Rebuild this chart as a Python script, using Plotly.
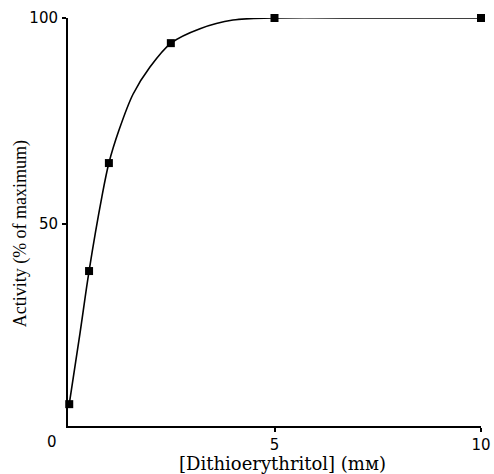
import plotly.graph_objects as go

# measured points
dte_mM = [0.03, 0.51, 0.99, 2.49, 5.0, 10.0]
activity_pct = [6.3, 38.6, 64.8, 93.9, 100.0, 100.0]

# fitted curve
curve_x = [0.03, 0.29, 0.51, 0.82, 0.99, 1.235, 1.574, 1.985, 2.494, 3.196, 3.995, 4.94, 7.5, 10.0]
curve_y = [6.3, 23.5, 38.6, 56.6, 64.8, 72.8, 81.5, 88.1, 93.9, 97.4, 99.5, 100.0, 100.0, 100.0]

x_ticks = [5, 10]
y_ticks = [50, 100]

TICK_FONT = dict(family="DejaVu Sans", size=15, color="black")

fig = go.Figure()
fig.add_trace(go.Scatter(x=curve_x, y=curve_y, mode="lines",
                         line=dict(color="black", width=1.6, shape="spline", smoothing=0.9),
                         cliponaxis=False, hoverinfo="skip", showlegend=False))
fig.add_trace(go.Scatter(x=dte_mM, y=activity_pct, mode="markers",
                         marker=dict(symbol="square", size=8, color="black"),
                         cliponaxis=False, showlegend=False))

fig.update_layout(
    width=494, height=474,
    margin=dict(l=68, r=13, t=18, b=48, autoexpand=False),
    paper_bgcolor="white", plot_bgcolor="white",
    xaxis=dict(range=[0, 10], tickvals=x_ticks, ticktext=[str(v) for v in x_ticks],
               automargin=False,
               showgrid=False, zeroline=False, showline=True, linecolor="black", linewidth=2,
               ticks="outside", ticklen=4, tickwidth=1.5, tickcolor="black",
               ticklabelstandoff=0, tickfont=TICK_FONT),
    yaxis=dict(range=[1, 100], tickvals=y_ticks, ticktext=[str(v) for v in y_ticks],
               automargin=False,
               showgrid=False, zeroline=False, showline=True, linecolor="black", linewidth=2,
               ticks="outside", ticklen=4, tickwidth=1.5, tickcolor="black",
               ticklabelstandoff=1, tickfont=TICK_FONT),
    annotations=[
        dict(x=0, y=1, xref="x", yref="y", text="0", showarrow=False,
             xshift=-16, yshift=-16, font=TICK_FONT),
        dict(x=5.2, y=0, xref="x", yref="paper", text="[Dithioerythritol] (mм)",
             showarrow=False, yanchor="middle", yshift=-37,
             font=dict(family="DejaVu Serif", size=18, color="black")),
        dict(x=0, y=47.5, xref="paper", yref="y", text="Activity (% of maximum)",
             showarrow=False, textangle=-90, xanchor="center", xshift=-48,
             font=dict(family="Liberation Serif", size=18, color="black")),
    ],
)

fig.write_html("out.html")
